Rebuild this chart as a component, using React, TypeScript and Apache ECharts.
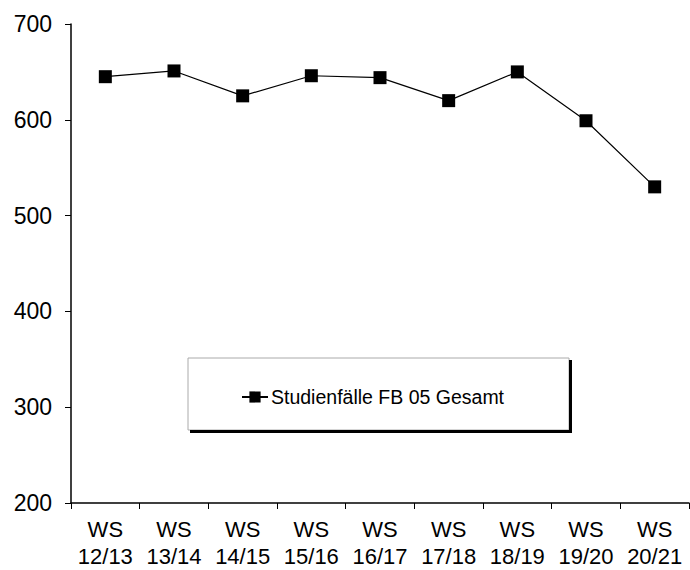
import React, { useEffect, useRef } from "react";
import * as echarts from "echarts";

const categories = ["WS\n12/13", "WS\n13/14", "WS\n14/15", "WS\n15/16", "WS\n16/17", "WS\n17/18", "WS\n18/19", "WS\n19/20", "WS\n20/21"];
const values = [645, 651, 625, 646, 644, 620, 650, 599, 530];
const seriesName = "Studienfälle FB 05 Gesamt";
const yTicks = { min: 200, max: 700, interval: 100 };

const FONT = "'Liberation Sans', Arial, sans-serif";

export default function App() {
  const ref = useRef<HTMLDivElement>(null);
  useEffect(() => {
    if (!ref.current) return;
    const chart = echarts.init(ref.current, undefined, { renderer: "svg" });
    chart.setOption({
      animation: false,
      backgroundColor: "#ffffff",
      textStyle: { fontFamily: FONT, color: "#000" },
      grid: { left: 71, right: 1, top: 24, bottom: 67, containLabel: false, outerBoundsMode: "none" },
      xAxis: {
        type: "category",
        data: categories,
        boundaryGap: true,
        axisLine: { show: true, lineStyle: { color: "#000", width: 1.5 } },
        axisTick: { show: true, inside: false, length: 6, lineStyle: { color: "#000", width: 1 } },
        axisLabel: { color: "#000", fontSize: 22, fontFamily: FONT, lineHeight: 27, margin: 13, interval: 0 },
        splitLine: { show: false },
      },
      yAxis: {
        type: "value",
        min: yTicks.min,
        max: yTicks.max,
        interval: yTicks.interval,
        axisLine: { show: true, lineStyle: { color: "#000", width: 1.5 } },
        axisTick: { show: true, inside: false, length: 6, lineStyle: { color: "#000", width: 1 } },
        axisLabel: { color: "#000", fontSize: 23, fontFamily: FONT, margin: 19 },
        splitLine: { show: false },
      },
      legend: {
        show: true,
        left: 236,
        top: 382,
        itemWidth: 26,
        itemHeight: 14,
        itemGap: 4,
        textStyle: { color: "#000", fontSize: 19.5, fontFamily: FONT, padding: [0, 0, 0, -2] },
        data: [seriesName],
      },
      graphic: [
        {
          type: "rect",
          z: -1,
          shape: { x: 188, y: 358, width: 381, height: 72 },
          style: { fill: "#fff", stroke: "#aaa", lineWidth: 1 },
        },
        {
          type: "polyline",
          z: -1,
          shape: { points: [[190, 431.5], [570.5, 431.5], [570.5, 360]] },
          style: { fill: "none", stroke: "#000", lineWidth: 3 },
        },
      ],
      series: [
        {
          name: seriesName,
          type: "line",
          data: values,
          symbol: "rect",
          symbolSize: 13,
          itemStyle: { color: "#000" },
          lineStyle: { color: "#000", width: 1.2 },
        },
      ],
    });
    return () => chart.dispose();
  }, []);
  return <div ref={ref} style={{ width: 690, height: 570, position: "absolute", left: 0, top: 0 }} />;
}
